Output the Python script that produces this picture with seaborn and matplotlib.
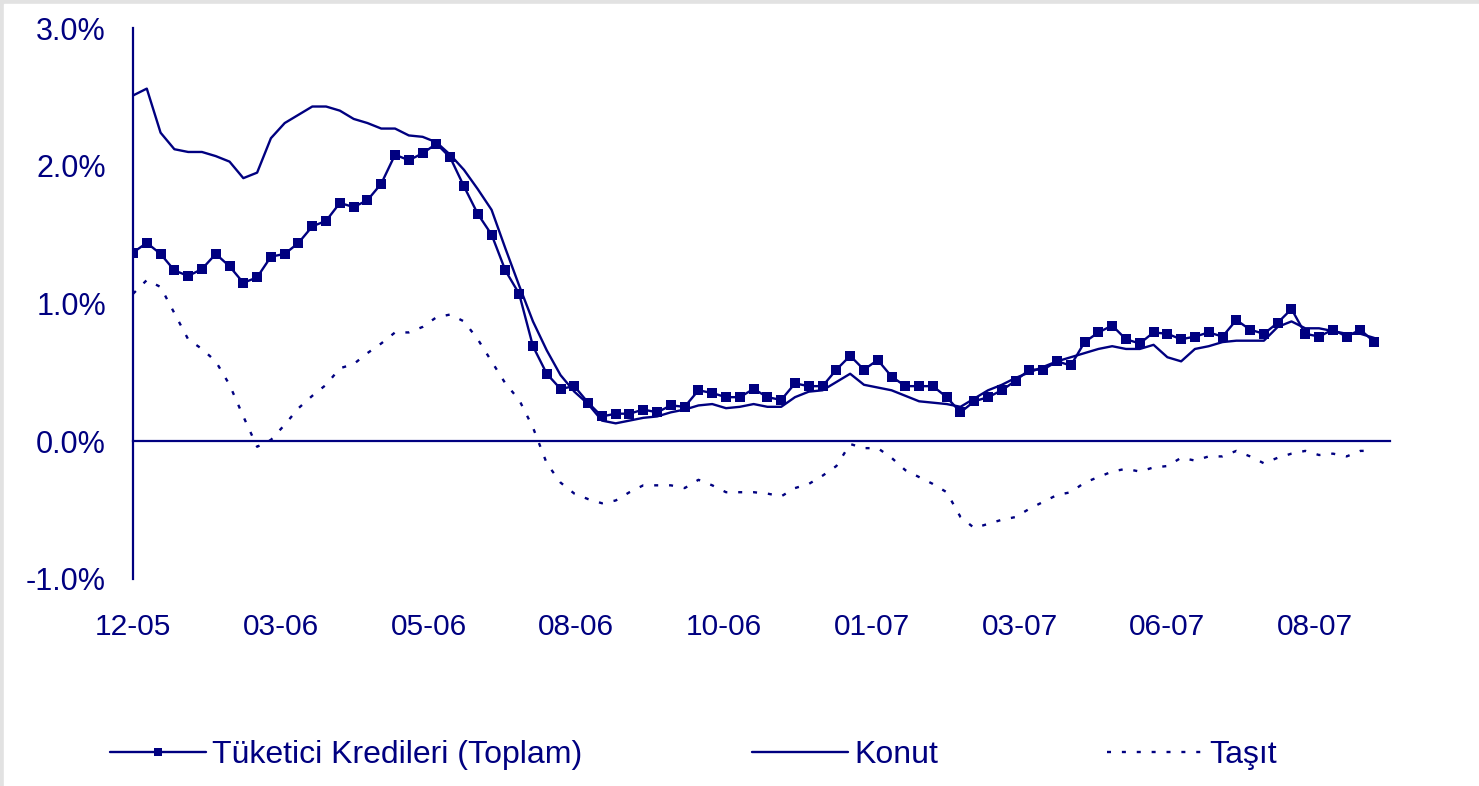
import matplotlib
matplotlib.use('Agg')
import matplotlib.pyplot as plt
from matplotlib.patches import Rectangle
from matplotlib.ticker import FuncFormatter
import seaborn as sns
import pandas as pd

# weekly growth rates (%)
tuketici = [1.37, 1.44, 1.36, 1.24, 1.20, 1.25, 1.36, 1.27, 1.15, 1.19,
            1.34, 1.36, 1.44, 1.56, 1.60, 1.73, 1.70, 1.75, 1.87, 2.08,
            2.04, 2.09, 2.16, 2.06, 1.85, 1.65, 1.50, 1.24, 1.07, 0.69,
            0.49, 0.38, 0.40, 0.28, 0.18, 0.20, 0.20, 0.23, 0.21, 0.26,
            0.25, 0.37, 0.35, 0.32, 0.32, 0.38, 0.32, 0.30, 0.42, 0.40,
            0.40, 0.52, 0.62, 0.52, 0.59, 0.47, 0.40, 0.40, 0.40, 0.32,
            0.21, 0.29, 0.32, 0.37, 0.44, 0.52, 0.52, 0.58, 0.55, 0.72,
            0.79, 0.84, 0.74, 0.71, 0.79, 0.78, 0.74, 0.76, 0.79, 0.76,
            0.88, 0.81, 0.78, 0.86, 0.96, 0.78, 0.76, 0.81, 0.76, 0.81,
            0.72]
konut = [2.51, 2.56, 2.24, 2.12, 2.10, 2.10, 2.07, 2.03, 1.91, 1.95,
         2.20, 2.31, 2.37, 2.43, 2.43, 2.40, 2.34, 2.31, 2.27, 2.27,
         2.22, 2.21, 2.17, 2.08, 1.97, 1.83, 1.68, 1.40, 1.13, 0.87,
         0.66, 0.48, 0.36, 0.27, 0.15, 0.13, 0.15, 0.17, 0.18, 0.21,
         0.23, 0.26, 0.27, 0.24, 0.25, 0.27, 0.25, 0.25, 0.32, 0.36,
         0.37, 0.43, 0.49, 0.41, 0.39, 0.37, 0.33, 0.29, 0.28, 0.27,
         0.25, 0.31, 0.37, 0.41, 0.46, 0.50, 0.54, 0.58, 0.61, 0.64,
         0.67, 0.69, 0.67, 0.67, 0.70, 0.61, 0.58, 0.67, 0.69, 0.72,
         0.73, 0.73, 0.73, 0.83, 0.87, 0.82, 0.82, 0.80, 0.78, 0.78,
         0.75]
tasit = [1.07, 1.17, 1.12, 0.93, 0.74, 0.67, 0.58, 0.41, 0.18, -0.04,
         0.01, 0.12, 0.24, 0.33, 0.41, 0.53, 0.56, 0.64, 0.71, 0.79,
         0.79, 0.83, 0.90, 0.92, 0.87, 0.74, 0.58, 0.42, 0.30, 0.10,
         -0.16, -0.30, -0.38, -0.42, -0.45, -0.43, -0.37, -0.32, -0.32, -0.32,
         -0.34, -0.28, -0.32, -0.37, -0.37, -0.37, -0.38, -0.40, -0.34, -0.31,
         -0.25, -0.18, -0.02, -0.05, -0.05, -0.12, -0.21, -0.26, -0.31, -0.37,
         -0.55, -0.63, -0.60, -0.57, -0.55, -0.49, -0.44, -0.39, -0.37, -0.30,
         -0.26, -0.22, -0.20, -0.22, -0.19, -0.18, -0.12, -0.14, -0.11, -0.11,
         -0.07, -0.11, -0.16, -0.12, -0.09, -0.07, -0.10, -0.09, -0.11, -0.07,
         -0.07]
series_names = ['Tüketici Kredileri (Toplam)', 'Konut', 'Taşıt']
x_labels = ['12-05', '03-06', '05-06', '08-06', '10-06',
            '01-07', '03-07', '06-07', '08-07']
y_ticks = [-1.0, 0.0, 1.0, 2.0, 3.0]

dates = pd.date_range('2005-12-23', periods=len(tuketici), freq='7D')
tick_dates = pd.date_range('2005-12-23', periods=len(x_labels), freq='75D')
df = pd.DataFrame({'date': dates, 'tuketici': tuketici,
                   'konut': konut, 'tasit': tasit})

navy = '#000080'
sns.set_style('white')
plt.rcParams['font.family'] = ['Liberation Sans', 'DejaVu Sans']
plt.rcParams['text.color'] = navy

fig = plt.figure(figsize=(14.79, 7.86), dpi=100)
fig.patch.set_facecolor('#e2e2e2')
fig.patches.append(Rectangle((4 / 1479, 0), 1, 1 - 4 / 786,
                             transform=fig.transFigure, color='white', zorder=-1))
ax = fig.add_axes([133 / 1479, 1 - 579 / 786, (1390 - 133) / 1479, (579 - 28) / 786])
ax.set_facecolor('white')

sns.lineplot(data=df, x='date', y='tuketici', ax=ax, color=navy, lw=1.7,
             marker='s', markersize=7.3, markeredgewidth=0, label=series_names[0])
sns.lineplot(data=df, x='date', y='konut', ax=ax, color=navy, lw=1.7,
             label=series_names[1])
sns.lineplot(data=df, x='date', y='tasit', ax=ax, color=navy, lw=1.7,
             linestyle=(0, (1.7, 4.6)), label=series_names[2])

handles, labels = ax.get_legend_handles_labels()
ax.get_legend().remove()

ax.set_ylim(-1, 3)
ax.set_yticks(y_ticks)
ax.yaxis.set_major_formatter(FuncFormatter(lambda v, p: f'{v:.1f}%'))
ax.set_xlim(dates[0], dates[0] + pd.Timedelta(days=638))
ax.set_xticks(tick_dates)
ax.set_xticklabels(x_labels)
ax.set_xlabel('')
ax.set_ylabel('')

for s in ['top', 'right']:
    ax.spines[s].set_visible(False)
ax.spines['bottom'].set_position(('data', 0))
for s in ['left', 'bottom']:
    ax.spines[s].set_color(navy)
    ax.spines[s].set_linewidth(1.6)
ax.tick_params(axis='x', direction='out', length=8, width=1.6, pad=116,
               colors=navy, labelsize=21.5)
ax.tick_params(axis='y', direction='out', length=6.5, width=1.6, pad=13,
               colors=navy, labelsize=22)

fig.legend(handles, labels, ncol=3, loc='center left',
           bbox_to_anchor=(110 / 1479, 1 - 755 / 786), frameon=False,
           fontsize=23, handlelength=3.0, handletextpad=0.2,
           columnspacing=5.3, borderpad=0, borderaxespad=0, markerscale=0.8)

plt.savefig('out.png', dpi=100, facecolor=fig.get_facecolor())
